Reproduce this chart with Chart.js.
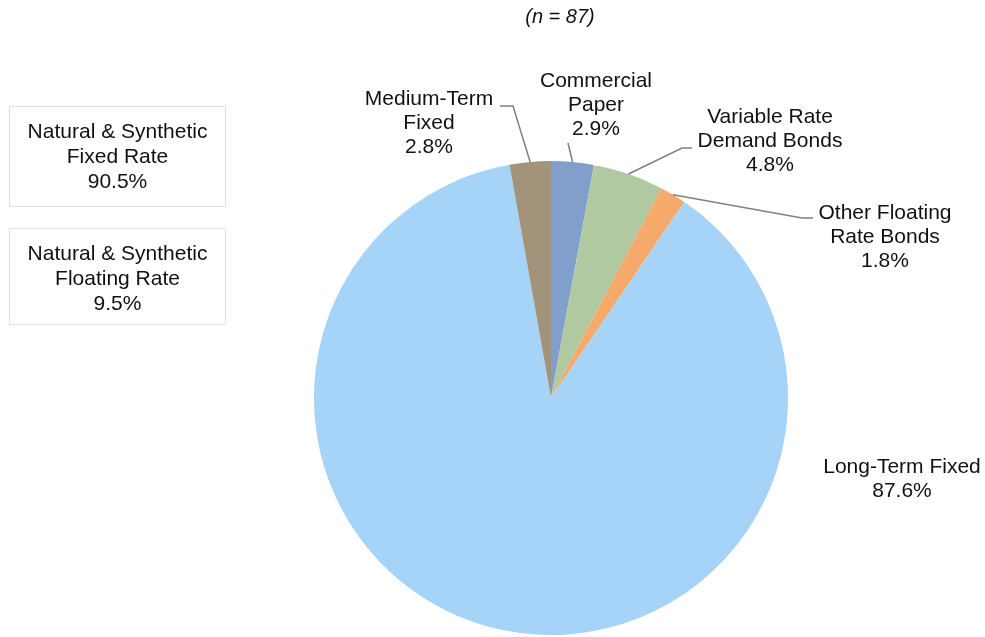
<!DOCTYPE html>
<html>
<head>
<meta charset="utf-8">
<script src="https://cdn.jsdelivr.net/npm/chart.js"></script>
<style>
  html, body { margin: 0; padding: 0; background: #fff; }
  #wrap { width: 985px; height: 637px; position: relative; }
</style>
</head>
<body>
<div id="wrap"><canvas id="chart"></canvas></div>
<script>
// Debt outstanding by type, share of total (n = 87)
const categories = ['Commercial Paper', 'Variable Rate Demand Bonds', 'Other Floating Rate Bonds', 'Long-Term Fixed', 'Medium-Term Fixed'];
const labelLines = [['Commercial', 'Paper'], ['Variable Rate', 'Demand Bonds'], ['Other Floating', 'Rate Bonds'], ['Long-Term Fixed'], ['Medium-Term', 'Fixed']];
const shares = [2.9, 4.8, 1.8, 87.6, 2.8];
const sliceColors = ['#809fcb', '#b0c9a0', '#f5a96b', '#a6d4f8', '#a3937a'];

// summary boxes on the left
const groupLabels = [['Natural & Synthetic', 'Fixed Rate'], ['Natural & Synthetic', 'Floating Rate']];
const groupShares = [90.5, 9.5];

const FONT = '21px "Liberation Sans", Arial, sans-serif';
const TEXT = '#111';
const LINE_H = 24;

// where each label block sits (center x, first line y) and its leader elbow
const labelPlace = [
  { x: 596, y: 81, elbow: [[568, 143]] },
  { x: 770, y: 117, elbow: [[682, 148], [692, 148]] },
  { x: 885, y: 213, elbow: [[802, 218], [813, 218]] },
  { x: 902, y: 467, elbow: null },
  { x: 429, y: 99, elbow: [[513, 106], [500, 106]] }
];
const boxPlace = [
  { x: 9.5, y: 106.5, w: 216, h: 100, ty: 132 },
  { x: 9.5, y: 228.5, w: 216, h: 96, ty: 254 }
];

const annotate = {
  id: 'annotate',
  afterDraw(chart) {
    const ctx = chart.ctx;
    const meta = chart.getDatasetMeta(0);
    ctx.save();

    // title
    ctx.fillStyle = TEXT;
    ctx.font = 'italic 20px "Liberation Sans", Arial, sans-serif';
    ctx.textAlign = 'center';
    ctx.textBaseline = 'middle';
    ctx.fillText('(n = 87)', 560, 17);

    ctx.font = FONT;
    meta.data.forEach((arc, i) => {
      const p = labelPlace[i];
      const mid = (arc.startAngle + arc.endAngle) / 2;
      if (p.elbow) {
        ctx.strokeStyle = '#808080';
        ctx.lineWidth = 1.5;
        ctx.beginPath();
        ctx.moveTo(arc.x + Math.cos(mid) * arc.outerRadius, arc.y + Math.sin(mid) * arc.outerRadius);
        p.elbow.forEach(pt => ctx.lineTo(pt[0], pt[1]));
        ctx.stroke();
      }
      const lines = labelLines[i].concat([shares[i].toFixed(1) + '%']);
      ctx.fillStyle = TEXT;
      lines.forEach((t, k) => ctx.fillText(t, p.x, p.y + k * LINE_H));
    });

    // grouped totals
    boxPlace.forEach((b, i) => {
      ctx.strokeStyle = '#d9e2ee';
      ctx.lineWidth = 1;
      ctx.strokeRect(b.x, b.y, b.w, b.h);
      const lines = groupLabels[i].concat([groupShares[i].toFixed(1) + '%']);
      ctx.fillStyle = TEXT;
      lines.forEach((t, k) => ctx.fillText(t, b.x + b.w / 2, b.ty + k * 25));
    });
    ctx.restore();
  }
};

new Chart(document.getElementById('chart'), {
  type: 'pie',
  data: {
    labels: categories,
    datasets: [{
      data: shares,
      backgroundColor: sliceColors,
      borderWidth: 0
    }]
  },
  options: {
    responsive: true,
    maintainAspectRatio: false,
    animation: false,
    layout: { padding: { left: 314, right: 197, top: 161, bottom: 2 } },
    plugins: {
      legend: { display: false },
      tooltip: { enabled: false }
    }
  },
  plugins: [annotate]
});
</script>
</body>
</html>
